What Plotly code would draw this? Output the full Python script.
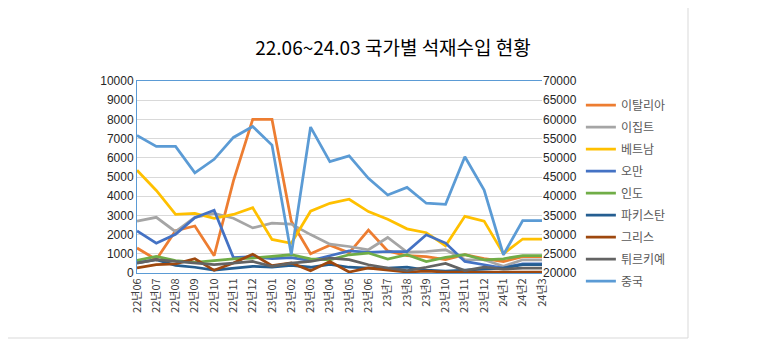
import plotly.graph_objects as go

months = ["22년06", "22년07", "22년08", "22년09", "22년10", "22년11", "22년12",
          "23년01", "23년02", "23년03", "23년04", "23년05", "23년06", "23년7",
          "23년8", "23년9", "23년10", "23년11", "23년12", "24년1", "24년2", "24년3"]

italy = [1300, 700, 2200, 2450, 900, 4800, 8000, 8000, 2700, 1000, 1450, 1050,
         2230, 1150, 900, 850, 700, 950, 750, 600, 850, 850]
egypt = [2700, 2900, 2150, 2900, 3100, 2850, 2350, 2600, 2550, 2000, 1500, 1380,
         1210, 1850, 1090, 1120, 1210, 700, 690, 350, 690, 690]
vietnam = [5350, 4300, 3060, 3100, 2850, 3050, 3400, 1750, 1550, 3220, 3630, 3840,
           3200, 2800, 2300, 2100, 1420, 2950, 2700, 1000, 1770, 1770]
oman = [2190, 1550, 2020, 2880, 3270, 800, 850, 750, 800, 650, 900, 1150,
        1070, 1120, 1120, 1990, 1560, 600, 430, 260, 480, 480]
india = [650, 860, 650, 550, 650, 740, 780, 860, 950, 740, 690, 950,
         1040, 730, 950, 600, 810, 950, 690, 740, 910, 910]
pakistan = [520, 700, 400, 300, 150, 250, 350, 300, 400, 300, 450, 300,
            250, 250, 300, 150, 100, 150, 200, 260, 430, 430]
greece = [260, 430, 480, 740, 140, 520, 980, 380, 520, 120, 600, 50,
          260, 160, 50, 100, 50, 50, 40, 40, 40, 40]
turkey = [520, 690, 600, 520, 430, 520, 600, 350, 520, 600, 780, 700,
          430, 260, 130, 300, 500, 130, 300, 200, 260, 260]
china = [55800, 52970, 52970, 46100, 49600, 55300, 58160, 53300, 24800, 58000,
         49000, 50500, 44660, 40330, 42300, 38170, 37900, 50270, 41600, 24750,
         33650, 33650]

series = [
    ("이탈리아", italy, "#ED7D31", "y"),
    ("이집트", egypt, "#A5A5A5", "y"),
    ("베트남", vietnam, "#FFC000", "y"),
    ("오만", oman, "#4472C4", "y"),
    ("인도", india, "#70AD47", "y"),
    ("파키스탄", pakistan, "#255E91", "y"),
    ("그리스", greece, "#9E480E", "y"),
    ("튀르키예", turkey, "#636363", "y"),
    ("중국", china, "#5B9BD5", "y2"),
]

FONT = "Noto Sans CJK KR"
NUMFONT = "Liberation Sans"
W, H = 760, 352
fig = go.Figure()
for name, vals, color, ax in series:
    fig.add_trace(go.Scatter(
        x=months, y=vals, name=name, mode="lines", yaxis=ax,
        line=dict(color=color, width=2.75), legendgroup=name,
    ))

fig.update_layout(
    width=W, height=H,
    paper_bgcolor="white", plot_bgcolor="white",
    margin=dict(l=129, r=226, t=73, b=87),
    font=dict(family=FONT, size=11, color="#404040"),
    title=dict(text="22.06~24.03 국가별 석재수입 현황", x=385 / W, xanchor="center",
               xref="container", y=1 - 40 / H, yref="container", yanchor="middle",
               font=dict(family=FONT, size=19, color="#000000")),
    showlegend=True,
    legend=dict(x=1.096, xanchor="left", y=0.95, yanchor="top",
                font=dict(family=FONT, size=12, color="#595959"),
                tracegroupgap=3, bgcolor="rgba(0,0,0,0)", maxheight=400),
    xaxis=dict(type="category", tickangle=-90, showgrid=False,
               showline=True, linecolor="#5B9BD5", linewidth=1, mirror=True,
               ticks="", tickfont=dict(family=FONT, size=11, color="#404040")),
    yaxis=dict(range=[0, 10000], dtick=1000, showgrid=True, gridcolor="#D9D9D9",
               gridwidth=1, zeroline=False, showline=True, linecolor="#5B9BD5",
               linewidth=1, ticks="", tickformat="d",
               tickfont=dict(family=NUMFONT, size=12, color="#262626")),
    yaxis2=dict(range=[20000, 70000], dtick=5000, overlaying="y", side="right",
                showgrid=False, zeroline=False, showline=False, ticks="",
                tickformat="d",
                tickfont=dict(family=NUMFONT, size=12, color="#262626")),
    shapes=[
        dict(type="line", xref="paper", yref="paper",
             x0=-0.35, x1=(680 - 129) / 405,
             y0=(273 - 338) / 192, y1=(273 - 338) / 192,
             line=dict(color="#D9D9D9", width=1)),
        dict(type="line", xref="paper", yref="paper",
             x0=(680 - 129) / 405, x1=(680 - 129) / 405,
             y0=(273 - 338) / 192, y1=273 / 192,
             line=dict(color="#D9D9D9", width=1)),
    ],
)

fig.write_html("out.html")
